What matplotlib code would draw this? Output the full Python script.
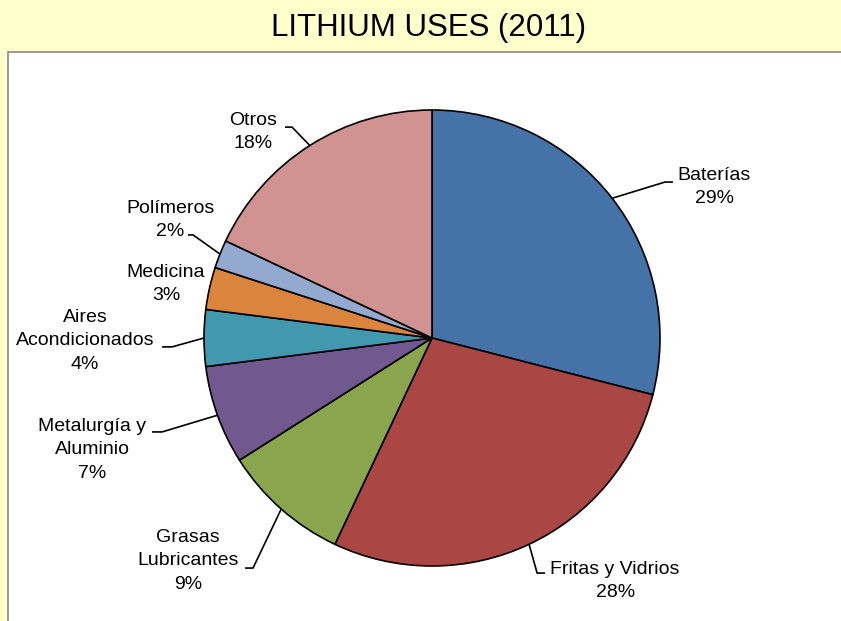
import matplotlib.pyplot as plt
from matplotlib.patches import Rectangle
import numpy as np

plt.rcParams["font.family"] = ["Liberation Sans", "DejaVu Sans"]

# lithium end uses, percent of total
categories = ["Baterías", "Fritas y Vidrios", "Grasas\nLubricantes", "Metalurgía y\nAluminio",
              "Aires\nAcondicionados", "Medicina", "Polímeros", "Otros"]
shares = [29, 28, 9, 7, 4, 3, 2, 18]
colors = ["#4572A7", "#AA4643", "#89A54E", "#71588F", "#4198AF", "#DB843D", "#93A9CF", "#D19392"]

# label centres and leader elbows, in units of the pie radius
label_pos = [(1.237, 0.662), (0.803, -1.066), (-1.070, -0.978), (-1.491, -0.491),
             (-1.522, -0.013), (-1.167, 0.237), (-1.149, 0.518), (-0.785, 0.904)]
elbows = [(1.022, 0.684), (0.461, -1.031), (-0.785, -1.009), (-1.184, -0.412),
          (-1.140, -0.039), None, (-1.048, 0.452), (-0.614, 0.925)]
tails = [0.035, 0.035, -0.035, -0.044, -0.044, 0, -0.022, -0.031]

W, H = 841, 621
cx, cy, r = 432, 338, 228

fig = plt.figure(figsize=(W / 100, H / 100), dpi=100, facecolor="#FFFFCC")
fig.patches.append(Rectangle((8 / W, -0.1), 1.1, (H - 52) / H + 0.1, transform=fig.transFigure,
                             facecolor="white", edgecolor="#888888", linewidth=1.2, zorder=-1))
fig.text(429 / W, 1 - 28 / H, "LITHIUM USES (2011)", ha="center", va="center", fontsize=22.5)

ax = fig.add_axes([0, 0, 1, 1])
ax.patch.set_visible(False)

wedges, _ = ax.pie(shares, colors=colors, startangle=90, counterclock=False, radius=1,
                   wedgeprops=dict(edgecolor="black", linewidth=1.2))

# pie() resets the limits, so map the axes onto the figure afterwards
ax.set_xlim(-cx / r, (W - cx) / r)
ax.set_ylim(-(H - cy) / r, cy / r)
ax.set_aspect("equal")
ax.axis("off")

for w, name, val, pos, elb, tail in zip(wedges, categories, shares, label_pos, elbows, tails):
    ax.text(pos[0], pos[1], f"{name}\n{val}%", ha="center", va="center", fontsize=14,
            linespacing=1.5)
    if elb is None:
        continue
    mid = np.deg2rad((w.theta1 + w.theta2) / 2)
    ax.plot([np.cos(mid), elb[0], elb[0] + tail], [np.sin(mid), elb[1], elb[1]],
            color="black", linewidth=1.2, solid_capstyle="butt")

fig.savefig("out.png", dpi=100, facecolor=fig.get_facecolor())
